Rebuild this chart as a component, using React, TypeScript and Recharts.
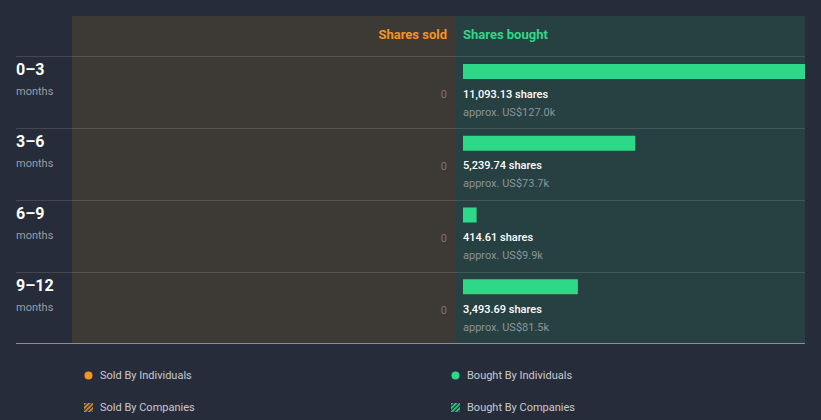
import { Bar, BarChart, LabelList, XAxis, YAxis } from "recharts";

const periods = ["0–3", "3–6", "6–9", "9–12"];
const sharesSold = [0, 0, 0, 0];
const sharesBought = [11093.13, 5239.74, 414.61, 3493.69];
const valueBought = ["US$127.0k", "US$73.7k", "US$9.9k", "US$81.5k"];

const data = periods.map((period, i) => ({
  period,
  sold: sharesSold[i],
  bought: sharesBought[i],
  value: valueBought[i]
}));

const BG = "#262c39";
const SOLD_BG = "#3d3935";
const BOUGHT_BG = "#274041";
const GREEN = "#2ed889";
const ORANGE = "#f5951f";
const FONT = "Roboto, 'Noto Sans', sans-serif";

const fmt = (v: number) =>
  v.toLocaleString("en-US", { minimumFractionDigits: 2, maximumFractionDigits: 2 });

function RowTick(props: any) {
  const { y, payload, index } = props;
  return (
    <g fontFamily={FONT}>
      <text x={16} y={y - 22} fill="#ffffff" fontSize={16} fontWeight={700} dominantBaseline="central">
        {payload.value}
      </text>
      <text x={16} y={y} fill="#9a9ea6" fontSize={11} dominantBaseline="central">
        months
      </text>
      <text x={447} y={y + 3} fill="#76736f" fontSize={11} textAnchor="end" dominantBaseline="central">
        {String(sharesSold[index])}
      </text>
    </g>
  );
}

function BoughtLabel(props: any) {
  const { x, y, index } = props;
  return (
    <g fontFamily={FONT}>
      <text x={x} y={y + 10} fill="#ffffff" fontSize={11} fontWeight={500} dominantBaseline="central">
        {fmt(sharesBought[index])} shares
      </text>
      <text x={x} y={y + 28} fill="#8c9598" fontSize={11} dominantBaseline="central">
        approx. {valueBought[index]}
      </text>
    </g>
  );
}

function ShiftedBar(props: any) {
  const { x, y, width, height } = props;
  return <rect x={x} y={y - 20} width={width} height={height} fill={GREEN} />;
}

const rowLines = [56, 128, 200, 272];

function LegendItem({ color, label, hatched }: { color: string; label: string; hatched?: boolean }) {
  return (
    <div style={{ display: "flex", alignItems: "center", gap: 7, color: "#c9cbd0", fontSize: 11 }}>
      <svg width={9} height={9}>
        {hatched ? (
          <g>
            <defs>
              <pattern id={`h-${color}`} width="3" height="3" patternUnits="userSpaceOnUse" patternTransform="rotate(45)">
                <rect width="1.6" height="3" fill={color} />
              </pattern>
            </defs>
            <rect width={9} height={9} fill={`url(#h-${color})`} />
          </g>
        ) : (
          <circle cx={4.5} cy={4.5} r={4} fill={color} />
        )}
      </svg>
      <span>{label}</span>
    </div>
  );
}

export default function App() {
  return (
    <div
      style={{
        position: "absolute",
        left: 0,
        top: 0,
        width: 821,
        height: 420,
        background: BG,
        fontFamily: FONT,
        overflow: "hidden"
      }}
    >
      <div style={{ position: "absolute", left: 72, top: 16, width: 383, height: 327, background: SOLD_BG }} />
      <div style={{ position: "absolute", left: 455, top: 16, width: 350, height: 327, background: BOUGHT_BG }} />
      {rowLines.map((y) => (
        <div
          key={y}
          style={{ position: "absolute", left: 16, top: y, width: 789, height: 1, background: "rgba(255,255,255,0.13)" }}
        />
      ))}
      <div style={{ position: "absolute", left: 16, top: 343, width: 789, height: 1, background: "#8a8f96" }} />
      <div
        style={{
          position: "absolute",
          right: 821 - 447,
          top: 27,
          color: ORANGE,
          fontSize: 13,
          fontWeight: 700,
          lineHeight: "16px"
        }}
      >
        Shares sold
      </div>
      <div
        style={{ position: "absolute", left: 463, top: 27, color: GREEN, fontSize: 13, fontWeight: 700, lineHeight: "16px" }}
      >
        Shares bought
      </div>

      <div style={{ position: "absolute", left: 0, top: 0 }}>
        <BarChart
          width={821}
          height={420}
          data={data}
          layout="vertical"
          margin={{ top: 56, right: 16, bottom: 77, left: 16 }}
          barSize={15}
        >
          <XAxis type="number" domain={[0, 10400]} allowDataOverflow hide />
          <YAxis
            type="category"
            dataKey="period"
            width={447}
            axisLine={false}
            tickLine={false}
            interval={0}
            tick={<RowTick />}
          />
          <Bar dataKey="bought" fill={GREEN} shape={<ShiftedBar />} isAnimationActive={false}>
            <LabelList dataKey="bought" content={<BoughtLabel />} />
          </Bar>
        </BarChart>
      </div>

      <div style={{ position: "absolute", left: 84, top: 369 }}>
        <LegendItem color={ORANGE} label="Sold By Individuals" />
      </div>
      <div style={{ position: "absolute", left: 451, top: 369 }}>
        <LegendItem color={GREEN} label="Bought By Individuals" />
      </div>
      <div style={{ position: "absolute", left: 84, top: 401 }}>
        <LegendItem color={ORANGE} label="Sold By Companies" hatched />
      </div>
      <div style={{ position: "absolute", left: 451, top: 401 }}>
        <LegendItem color={GREEN} label="Bought By Companies" hatched />
      </div>
    </div>
  );
}
